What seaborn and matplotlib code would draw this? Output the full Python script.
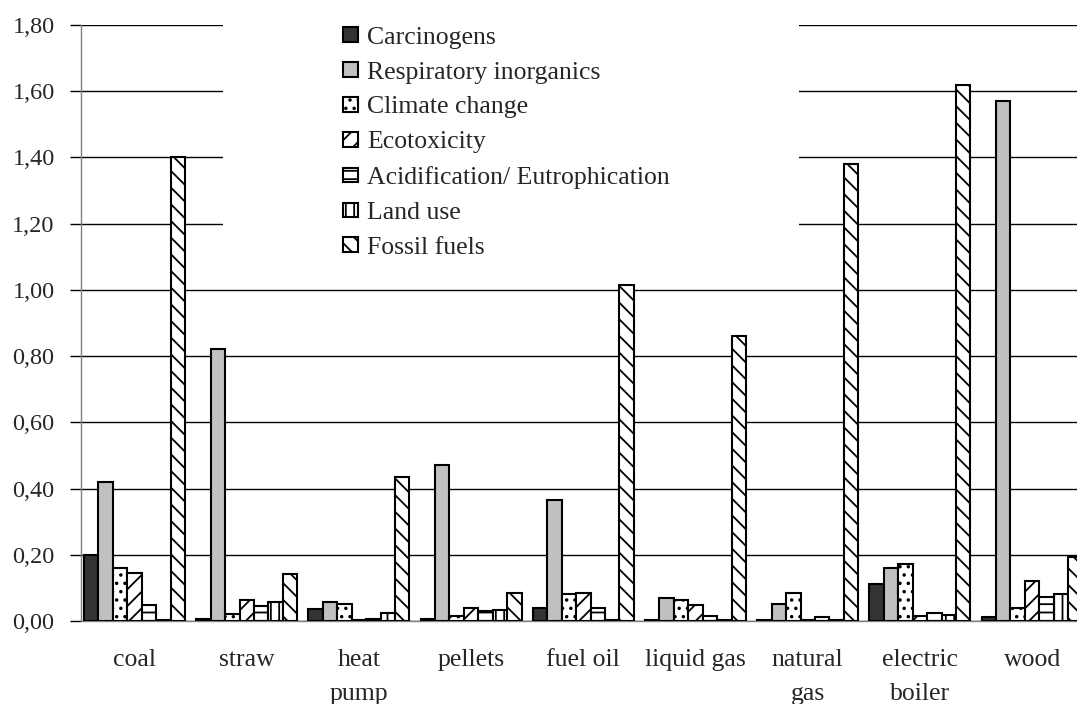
import matplotlib
matplotlib.use("Agg")
import matplotlib.pyplot as plt
import matplotlib.ticker as mticker
from matplotlib.patches import Patch, Rectangle
import seaborn as sns
import pandas as pd

categories = ["coal", "straw", "heat\npump", "pellets", "fuel oil", "liquid gas",
              "natural\ngas", "electric\nboiler", "wood"]
impacts = ["Carcinogens", "Respiratory inorganics", "Climate change", "Ecotoxicity",
           "Acidification/ Eutrophication", "Land use", "Fossil fuels"]

carcinogens   = [0.200, 0.005, 0.036, 0.005, 0.038, 0.004, 0.004, 0.113, 0.013]
respiratory   = [0.420, 0.820, 0.056, 0.470, 0.365, 0.068, 0.051, 0.160, 1.570]
climate       = [0.160, 0.022, 0.051, 0.016, 0.082, 0.064, 0.084, 0.172, 0.038]
ecotoxicity   = [0.145, 0.064, 0.004, 0.039, 0.084, 0.047, 0.004, 0.016, 0.120]
acidification = [0.048, 0.046, 0.006, 0.031, 0.038, 0.016, 0.012, 0.023, 0.071]
land_use      = [0.002, 0.056, 0.024, 0.034, 0.003, 0.002, 0.002, 0.018, 0.082]
fossil        = [1.400, 0.142, 0.435, 0.085, 1.015, 0.860, 1.380, 1.620, 0.194]

series = [carcinogens, respiratory, climate, ecotoxicity, acidification, land_use, fossil]

rows = []
for name, vals in zip(impacts, series):
    for c, v in zip(categories, vals):
        rows.append({"category": c, "impact": name, "value": v})
df = pd.DataFrame(rows)

sns.set_style("white")
plt.rcParams["font.family"] = ["Liberation Serif", "DejaVu Serif"]
plt.rcParams["hatch.linewidth"] = 1.3
plt.rcParams["hatch.color"] = "black"

facecolors = ["#333333", "#c0c0c0", "white", "white", "white", "white", "white"]
hatches = [None, None, "..", "//", "--", "||", "\\\\"]

fig = plt.figure(figsize=(10.77, 7.04), dpi=100)
ax = fig.add_axes([81 / 1077, 83 / 704, (1077 - 81) / 1077, 596 / 704])

sns.barplot(data=df, x="category", y="value", hue="impact", order=categories,
            hue_order=impacts, palette=facecolors, saturation=1, width=0.9,
            edgecolor="black", linewidth=1.5, errorbar=None, ax=ax, legend=False,
            zorder=3)

for cont, h in zip(ax.containers, hatches):
    for bar in cont:
        if h:
            bar.set_hatch(h)

ax.set_ylim(0, 1.8)
ax.set_xlim(-0.477, 8.40)
ax.yaxis.set_major_locator(mticker.MultipleLocator(0.2))
ax.yaxis.set_major_formatter(mticker.FuncFormatter(lambda v, p: f"{v:.2f}".replace(".", ",")))
ax.grid(axis="y", color="black", linewidth=1.0, zorder=0)
ax.set_axisbelow(True)

# white background block behind the legend (interrupts gridlines)
ax.add_patch(Rectangle(((223 - 81) / 996, (621 - 262) / 596), (799 - 223) / 996, 0.45,
                       transform=ax.transAxes, facecolor="white", edgecolor="none",
                       zorder=1, clip_on=False))

for s in ["top", "right"]:
    ax.spines[s].set_visible(False)
ax.spines["left"].set_color("#808080")
ax.spines["bottom"].set_color("#808080")
ax.spines["left"].set_linewidth(1.0)
ax.spines["bottom"].set_linewidth(1.0)

ax.tick_params(axis="y", which="major", left=True, length=8, width=1.0, color="black",
               labelsize=17.5, pad=11, direction="out")
ax.set_xticks(range(len(categories)))
ax.set_xticklabels(categories)
ax.tick_params(axis="x", bottom=False, length=0, labelsize=18.5, pad=20)
ax.set_xlabel("")
ax.set_ylabel("")

handles = [Patch(facecolor=fc, edgecolor="black", hatch=h, linewidth=1.5, label=lab)
           for fc, h, lab in zip(facecolors, hatches, impacts)]
leg = ax.legend(handles=handles, loc="upper left", bbox_to_anchor=(0.263, 0.997),
                frameon=False, fontsize=18.5, handlelength=0.58, handleheight=0.5,
                handletextpad=0.35, labelspacing=0.50, borderaxespad=0, borderpad=0)
leg.set_zorder(5)

fig.canvas.draw()
for lbl in ax.get_xticklabels():
    lbl.set_linespacing(1.7)

fig.savefig("out.png", dpi=100, facecolor="white")
